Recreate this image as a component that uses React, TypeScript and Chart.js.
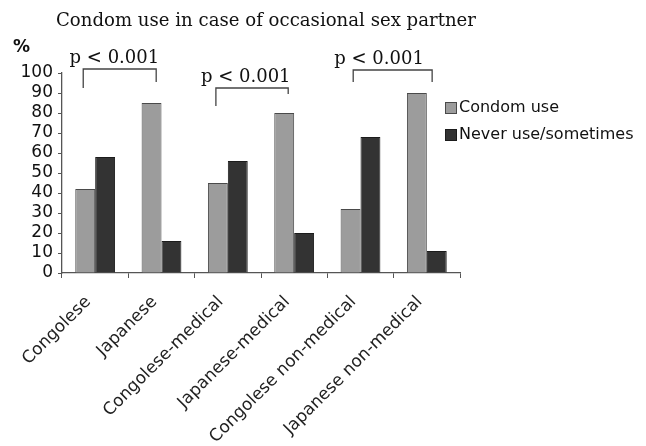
import React, { useEffect, useRef } from "react";
import { Chart, registerables } from "chart.js";

Chart.register(...registerables);

const titleText = "Condom use in case of occasional sex partner";
const categories = [
  "Congolese",
  "Japanese",
  "Congolese-medical",
  "Japanese-medical",
  "Congolese non-medical",
  "Japanese non-medical",
];
const seriesNames = ["Condom use", "Never use/sometimes"];
const condomUse = [42, 85, 45, 80, 32, 90];
const neverUse = [58, 16, 56, 20, 68, 11];
const yTicks = [0, 10, 20, 30, 40, 50, 60, 70, 80, 90, 100];
const yUnit = "%";

// significance brackets (x in category-index units, y in % units)
const pLabels = ["p < 0.001", "p < 0.001", "p < 0.001"];
const bracketStart = [-0.18, 1.82, 3.89];
const bracketEnd = [0.92, 2.91, 5.08];
const bracketTop = [102, 92.5, 101.5];
const bracketLeftEnd = [92.5, 83.5, 95.5];
const bracketRightEnd = [95.5, 89.5, 95.5];
const pLabelX = [0.29, 2.27, 4.28];

const fillColors = ["#9c9c9c", "#333333"];
const borderColors = ["#4a4a4a", "#1c1c1c"];

const SANS = "'DejaVu Sans', sans-serif";
const SERIF = "'DejaVu Serif', serif";

const annotationPlugin = {
  id: "annotations",
  afterDraw(chart: any) {
    const ctx = chart.ctx;
    const x = chart.scales.x;
    const y = chart.scales.y;
    ctx.save();
    // title
    ctx.fillStyle = "#111";
    ctx.font = `19px ${SERIF}`;
    ctx.textAlign = "center";
    ctx.textBaseline = "middle";
    ctx.fillText(titleText, 266, 21, 420);
    // brackets
    ctx.strokeStyle = "#444";
    ctx.lineWidth = 1.3;
    for (let i = 0; i < pLabels.length; i++) {
      const x1 = x.getPixelForValue(bracketStart[i]);
      const x2 = x.getPixelForValue(bracketEnd[i]);
      const yt = y.getPixelForValue(bracketTop[i]);
      const yl = y.getPixelForValue(bracketLeftEnd[i]);
      const yr = y.getPixelForValue(bracketRightEnd[i]);
      ctx.beginPath();
      ctx.moveTo(x1, yl);
      ctx.lineTo(x1, yt);
      ctx.lineTo(x2, yt);
      ctx.lineTo(x2, yr);
      ctx.stroke();
      ctx.fillStyle = "#111";
      ctx.font = `18px ${SERIF}`;
      ctx.textAlign = "center";
      ctx.textBaseline = "alphabetic";
      ctx.fillText(pLabels[i], x.getPixelForValue(pLabelX[i]), yt - 6);
    }
    // unit label
    ctx.font = `bold 17px ${SANS}`;
    ctx.fillStyle = "#111";
    ctx.textAlign = "left";
    ctx.textBaseline = "middle";
    ctx.fillText(yUnit, 13, y.top - 25);
    // legend
    const lx = chart.chartArea.right - 15;
    const ly = [y.top + 35, y.top + 62];
    for (let i = 0; i < seriesNames.length; i++) {
      ctx.fillStyle = fillColors[i];
      ctx.fillRect(lx, ly[i] - 6, 12, 12);
      ctx.strokeStyle = borderColors[i];
      ctx.lineWidth = 1;
      ctx.strokeRect(lx + 0.5, ly[i] - 5.5, 11, 11);
      ctx.fillStyle = "#111";
      ctx.font = `16px ${SANS}`;
      ctx.textAlign = "left";
      ctx.textBaseline = "middle";
      ctx.fillText(seriesNames[i], lx + 14, ly[i]);
    }
    ctx.restore();
  },
};

export default function App() {
  const ref = useRef<HTMLCanvasElement>(null);
  useEffect(() => {
    document.body.style.margin = "0";
    const chart = new Chart(ref.current as HTMLCanvasElement, {
      type: "bar",
      data: {
        labels: categories,
        datasets: [
          {
            label: seriesNames[0],
            data: condomUse,
            backgroundColor: fillColors[0],
            borderColor: borderColors[0],
            borderWidth: 1,
            categoryPercentage: 0.6,
            barPercentage: 1,
          },
          {
            label: seriesNames[1],
            data: neverUse,
            backgroundColor: fillColors[1],
            borderColor: borderColors[1],
            borderWidth: 1,
            categoryPercentage: 0.6,
            barPercentage: 1,
          },
        ],
      },
      options: {
        responsive: false,
        animation: false,
        layout: { padding: { top: 73, left: 0, right: 186, bottom: 0 } },
        plugins: {
          legend: { display: false },
          tooltip: { enabled: false },
          title: { display: false },
        },
        scales: {
          x: {
            grid: {
              display: true,
              drawOnChartArea: false,
              drawTicks: true,
              tickLength: 5,
              color: "#555",
              offset: true,
            },
            border: { display: true, color: "#555", width: 1.3 },
            ticks: {
              color: "#222",
              font: { family: SANS, size: 17 },
              minRotation: 45,
              maxRotation: 45,
              autoSkip: false,
              padding: 14,
              labelOffset: -7,
            },
            afterFit(scale: any) {
              scale.height = 173;
            },
          },
          y: {
            min: 0,
            max: 100,
            afterBuildTicks(scale: any) {
              scale.ticks = yTicks.map((v) => ({ value: v }));
            },
            grid: {
              display: true,
              drawOnChartArea: false,
              drawTicks: true,
              tickLength: 4,
              color: "#555",
            },
            border: { display: true, color: "#555", width: 1.3 },
            ticks: {
              color: "#111",
              font: { family: SANS, size: 17 },
              padding: 5,
              autoSkip: false,
            },
            afterFit(scale: any) {
              scale.width = 62;
            },
          },
        },
      },
      plugins: [annotationPlugin],
    });
    return () => chart.destroy();
  }, []);
  return <canvas ref={ref} width={646} height={446} />;
}
